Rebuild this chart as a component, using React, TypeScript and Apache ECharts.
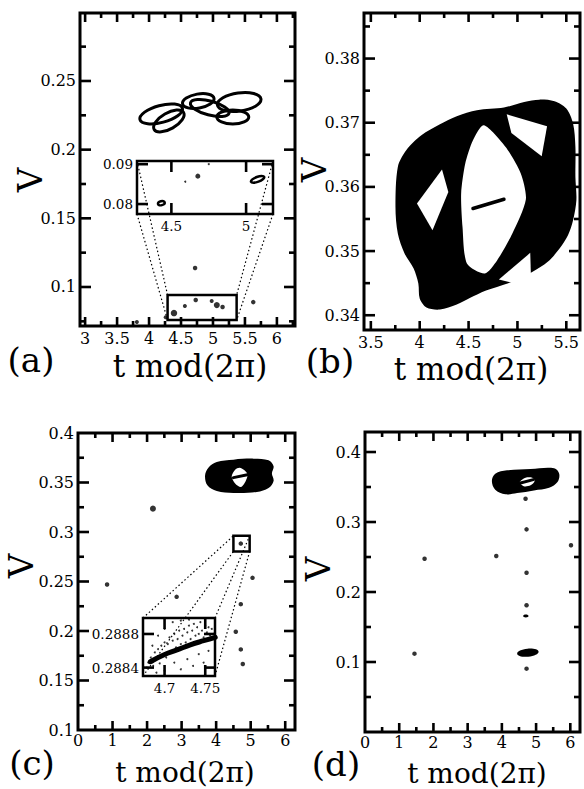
import React, { useEffect, useRef } from "react";
import * as echarts from "echarts";

const SERIF = "'DejaVu Serif', serif";

// ---------------- axes (ranges, ticks, tick labels) ----------------
const aXRange = [2.92, 6.283];
const aXMajor = [3, 3.5, 4, 4.5, 5, 5.5, 6];
const aXMinor = [3.25, 3.75, 4.25, 4.75, 5.25, 5.75, 6.25];
const aYRange = [0.0716, 0.2995];
const aYMajor = [0.1, 0.15, 0.2, 0.25];
const aYMinor = [0.075, 0.125, 0.175, 0.225, 0.275];

const bXRange = [3.43, 5.64];
const bXMajor = [3.5, 4, 4.5, 5, 5.5];
const bXMinor = [3.75, 4.25, 4.75, 5.25];
const bYRange = [0.3377, 0.3871];
const bYMajor = [0.34, 0.35, 0.36, 0.37, 0.38];
const bYMinor = [0.345, 0.355, 0.365, 0.375, 0.385];

const cXRange = [0, 6.2832];
const cXMajor = [0, 1, 2, 3, 4, 5, 6];
const cXMinor = [0.5, 1.5, 2.5, 3.5, 4.5, 5.5];
const cYRange = [0.1, 0.4];
const cYMajor = [0.1, 0.15, 0.2, 0.25, 0.3, 0.35, 0.4];
const cYMinor = [0.125, 0.175, 0.225, 0.275, 0.325, 0.375];

const dXRange = [0, 6.2832];
const dXMajor = [0, 1, 2, 3, 4, 5, 6];
const dXMinor = [0.5, 1.5, 2.5, 3.5, 4.5, 5.5];
const dYRange = [0, 0.4286];
const dYMajor = [0.1, 0.2, 0.3, 0.4];
const dYMinor = [0.05, 0.15, 0.25, 0.35];

const aiXRange = [4.27, 5.18];
const aiXMajor = [4.5, 5];
const aiYRange = [0.0775, 0.0908];
const aiYMajor = [0.08, 0.09];

const ciXRange = [4.6735, 4.762];
const ciXMajor = [4.7, 4.75];
const ciYRange = [0.2883, 0.28899];
const ciYMajor = [0.2884, 0.2888];

// ---------------- panel (a) ----------------
const aLoopT = [4.19, 4.31, 4.77, 4.95, 5.41, 5.31];
const aLoopV = [0.226, 0.2209, 0.2354, 0.2303, 0.2347, 0.2238];
const aLoopRt = [0.344, 0.266, 0.25, 0.3125, 0.344, 0.25];
const aLoopRv = [0.0062, 0.0058, 0.0051, 0.0051, 0.0066, 0.0051];
const aLoopAng = [15, 30, 10, -15, 8, 0];

const aDotT = [4.72, 3.81, 4.26, 4.39, 4.56, 4.73, 4.98, 5.06, 5.15, 5.63];
const aDotV = [0.1138, 0.0745, 0.078, 0.081, 0.0862, 0.0905, 0.0898, 0.0868, 0.0854, 0.089];
const aDotS = [4.5, 4, 4, 6.5, 4, 4.5, 4, 6, 4.5, 4.5];

const aBoxT = [4.29, 5.37];
const aBoxV = [0.0759, 0.0941];

// inset of (a)
const aiLoopT = [4.433, 5.077];
const aiLoopV = [0.0802, 0.0862];
const aiLoopRt = [0.023, 0.047];
const aiLoopRv = [0.0005, 0.00062];
const aiLoopAng = [15, 20];
const aiDotT = [4.677, 4.593, 4.75];
const aiDotV = [0.087, 0.0856, 0.09];
const aiDotS = [5, 2, 2];

// ---------------- panel (b) ----------------
const bOuterT = [3.752, 3.776, 3.862, 4.017, 4.207, 4.379, 4.586, 4.862, 5.069, 5.224, 5.379, 5.5, 5.569, 5.593, 5.593, 5.603, 5.569, 5.517, 5.431, 5.31, 5.155, 4.983, 4.828, 4.672, 4.517, 4.379, 4.207, 4.069, 4.0, 3.986, 3.938, 3.845, 3.776];
const bOuterV = [0.35688, 0.36312, 0.36571, 0.36805, 0.36976, 0.37101, 0.37194, 0.37236, 0.37324, 0.3736, 0.37334, 0.3722, 0.36987, 0.36623, 0.36156, 0.35792, 0.35481, 0.35247, 0.35039, 0.34832, 0.34676, 0.34546, 0.34458, 0.3438, 0.34271, 0.34167, 0.34089, 0.3412, 0.3426, 0.34494, 0.34728, 0.34962, 0.35273];
const bLensT = [4.655, 4.545, 4.466, 4.424, 4.438, 4.483, 4.666, 4.793, 4.948, 5.086, 5.034, 4.879];
const bLensV = [0.36961, 0.36727, 0.36363, 0.35896, 0.35377, 0.34806, 0.3465, 0.34858, 0.35273, 0.35803, 0.36208, 0.36623];
const bHoleLT = [3.972, 4.228, 4.293, 4.131];
const bHoleLV = [0.3574, 0.3627, 0.35922, 0.35325];
const bHoleURT = [4.89, 5.303, 5.248, 4.938];
const bHoleURV = [0.37132, 0.36945, 0.36478, 0.36841];
const bHoleLRT = [4.81, 5.131, 5.138, 4.948];
const bHoleLRV = [0.34557, 0.34972, 0.34609, 0.34505];
const bSegT = [4.545, 4.862];
const bSegV = [0.35663, 0.35808];

// ---------------- panel (c) ----------------
const cBlobT = [3.679, 3.775, 4.017, 4.501, 5.082, 5.518, 5.663, 5.615, 5.663, 5.518, 5.179, 4.501, 4.017, 3.746];
const cBlobV = [0.357, 0.365, 0.3707, 0.3731, 0.3741, 0.3724, 0.3664, 0.359, 0.3516, 0.3445, 0.3405, 0.3395, 0.3415, 0.3472];
const cHoleT = [4.45, 4.55, 4.68, 4.82, 4.91, 4.85, 4.72, 4.55];
const cHoleV = [0.356, 0.363, 0.365, 0.3625, 0.358, 0.351, 0.3455, 0.349];
const cSegT = [4.5, 4.94];
const cSegV = [0.3549, 0.358];
const cDotT = [2.17, 0.842, 2.856, 4.714, 5.053, 4.714, 4.569, 4.714, 4.772];
const cDotV = [0.3236, 0.247, 0.2345, 0.2883, 0.2537, 0.2271, 0.1992, 0.1814, 0.1666];
const cDotS = [6, 4.5, 4.5, 4.5, 4.5, 4.5, 4.5, 4.5, 4.5];
const cBoxT = [4.5, 4.97];
const cBoxV = [0.2803, 0.2961];

// inset of (c)
const ciCoreT = [4.6825, 4.6988, 4.7153, 4.7316, 4.748, 4.7623];
const ciCoreV = [0.28847, 0.28855, 0.28861, 0.28867, 0.28872, 0.28876];
const ciDotT = [4.678, 4.68, 4.683, 4.686, 4.688, 4.69, 4.692, 4.694, 4.696, 4.698, 4.7, 4.702, 4.704, 4.706, 4.708, 4.71, 4.712, 4.714, 4.716, 4.718, 4.72, 4.722, 4.724, 4.726, 4.728, 4.73, 4.732, 4.734, 4.736, 4.738, 4.74, 4.742, 4.744, 4.746, 4.748, 4.75, 4.752, 4.754, 4.756, 4.758, 4.76, 4.7, 4.712, 4.72, 4.728, 4.735, 4.742, 4.748, 4.754, 4.69, 4.685, 4.692, 4.7, 4.71, 4.72, 4.73];
const ciDotV = [0.2884, 0.28846, 0.28852, 0.28842, 0.28858, 0.2885, 0.28862, 0.28845, 0.28866, 0.28856, 0.2887, 0.28852, 0.28868, 0.28876, 0.28858, 0.28872, 0.2888, 0.28864, 0.28874, 0.28884, 0.28868, 0.28878, 0.28886, 0.2887, 0.28882, 0.2889, 0.28874, 0.28884, 0.28892, 0.28878, 0.28888, 0.2888, 0.28894, 0.28884, 0.28876, 0.2889, 0.28882, 0.28888, 0.28878, 0.28886, 0.2888, 0.28836, 0.28846, 0.28838, 0.2885, 0.28842, 0.28856, 0.28846, 0.2886, 0.28834, 0.28866, 0.28878, 0.28886, 0.28894, 0.28896, 0.28897];

// ---------------- panel (d) ----------------
const dBlobT = [3.708, 3.806, 4.151, 4.839, 5.528, 5.675, 5.626, 5.38, 4.938, 4.446, 4.102, 3.806];
const dBlobV = [0.3586, 0.369, 0.3738, 0.3757, 0.3767, 0.369, 0.3571, 0.349, 0.3452, 0.3414, 0.3395, 0.3462];
const dHoleT = [4.524, 4.692, 4.888, 4.957, 4.839, 4.642];
const dHoleV = [0.3571, 0.3633, 0.3633, 0.3586, 0.3524, 0.351];
const dSegT = [4.544, 4.918];
const dSegV = [0.3557, 0.3605];
const dDotT = [4.692, 4.721, 6.02, 3.836, 1.741, 4.721, 4.721, 4.721, 1.446];
const dDotV = [0.3333, 0.2895, 0.2667, 0.2514, 0.2476, 0.2276, 0.181, 0.0905, 0.1119];
const dSmearT = [4.76, 4.7];
const dSmearV = [0.1133, 0.1657];
const dSmearRt = [0.315, 0.08];
const dSmearRv = [0.0057, 0.0021];
const dSmearAng = [5, 0];

type Ax = { range: number[]; major: number[]; minor: number[]; labels: number[] };
type Style = { xLen: number[]; yLen: number[]; font: number; xm: number; ym: number; border: number };
type Panel = { g: number; xi: number; yi: number; X: Ax; Y: Ax; s: Style; rect: number[] };

const fmt = (v: number) => String(parseFloat(Number(v).toFixed(6)));

// tick marks (inward, on all four sides) as rectangular scatter symbols placed through the axes
function tickScatter(P: Panel) {
  const { X, Y, s, rect } = P;
  const xs = X.range[1] - X.range[0];
  const ys = Y.range[1] - Y.range[0];
  const W = 2.6;
  const inside = (v: number, r: number[]) =>
    v > r[0] + (r[1] - r[0]) * 0.004 && v < r[1] - (r[1] - r[0]) * 0.004;
  const data: any[] = [];
  const addX = (vals: number[], L: number) => {
    const h = ((L / 2) / rect[3]) * ys;
    vals.filter((v) => inside(v, X.range)).forEach((v) => {
      data.push({ value: [v, Y.range[0] + h], symbolSize: [W, L] });
      data.push({ value: [v, Y.range[1] - h], symbolSize: [W, L] });
    });
  };
  const addY = (vals: number[], L: number) => {
    const h = ((L / 2) / rect[2]) * xs;
    vals.filter((v) => inside(v, Y.range)).forEach((v) => {
      data.push({ value: [X.range[0] + h, v], symbolSize: [L, W] });
      data.push({ value: [X.range[1] - h, v], symbolSize: [L, W] });
    });
  };
  addX(X.major, s.xLen[0]);
  addX(X.minor, s.xLen[1]);
  addY(Y.major, s.yLen[0]);
  addY(Y.minor, s.yLen[1]);
  return {
    type: "scatter", xAxisIndex: P.xi, yAxisIndex: P.yi, z: 4, silent: true, clip: false,
    symbol: "rect",
    itemStyle: { color: "#000", opacity: 1 },
    data,
  };
}

function addPanel(o: any, rect: number[], X: Ax, Y: Ax, s: Style): Panel {
  const g = o.grid.length;
  o.grid.push({
    left: rect[0], top: rect[1], width: rect[2], height: rect[3],
    show: true, borderColor: "#000", borderWidth: s.border, backgroundColor: "transparent",
    containLabel: false, outerBoundsMode: "none",
  });
  const mk = (A: Ax, pos: string, labels: number[], margin: number) => ({
    type: "value", gridIndex: g, position: pos, min: A.range[0], max: A.range[1],
    axisLine: { show: false, onZero: false },
    splitLine: { show: false },
    splitArea: { show: false },
    axisTick: { show: false },
    axisLabel: { show: true, customValues: labels, formatter: fmt, color: "#000", fontFamily: SERIF, fontSize: s.font, margin },
    silent: true,
  });
  const xi = o.xAxis.length;
  o.xAxis.push(mk(X, "bottom", X.labels, s.xm));
  const yi = o.yAxis.length;
  o.yAxis.push(mk(Y, "left", Y.labels, s.ym));
  const P = { g, xi, yi, X, Y, s, rect };
  o.series.push(tickScatter(P));
  return P;
}

const polySeries = (P: Panel, T: number[], V: number[], fill: string, smooth = 0, z = 3) => ({
  type: "custom", xAxisIndex: P.xi, yAxisIndex: P.yi, z, silent: true,
  data: [[T[0], V[0]]],
  renderItem: (_p: any, api: any) => ({
    type: "polygon",
    shape: { points: T.map((t, i) => api.coord([t, V[i]])), smooth },
    style: { fill, stroke: "none" },
  }),
});

const ellipseSeries = (P: Panel, T: number[], V: number[], Rt: number[], Rv: number[], Ang: number[], style: any) => ({
  type: "custom", xAxisIndex: P.xi, yAxisIndex: P.yi, z: 3, silent: true,
  data: T.map((t, i) => [t, V[i], Rt[i], Rv[i], Ang[i]]),
  renderItem: (_p: any, api: any) => {
    const c = api.coord([api.value(0), api.value(1)]);
    const sz = api.size([api.value(2), api.value(3)]);
    return {
      type: "ellipse", x: c[0], y: c[1], rotation: (api.value(4) * Math.PI) / 180,
      shape: { cx: 0, cy: 0, rx: sz[0], ry: sz[1] },
      style,
    };
  },
});

const boxSeries = (P: Panel, T: number[], V: number[]) => ({
  type: "custom", xAxisIndex: P.xi, yAxisIndex: P.yi, z: 3, silent: true,
  data: [[T[0], V[0]]],
  renderItem: (_p: any, api: any) => {
    const a = api.coord([T[0], V[1]]);
    const b = api.coord([T[1], V[0]]);
    return {
      type: "rect",
      shape: { x: a[0], y: a[1], width: b[0] - a[0], height: b[1] - a[1] },
      style: { fill: "none", stroke: "#000", lineWidth: 2.5 },
    };
  },
});

const dotSeries = (P: Panel, T: number[], V: number[], S: number[] | number) => ({
  type: "scatter", xAxisIndex: P.xi, yAxisIndex: P.yi, z: 4, silent: true,
  symbol: "circle",
  itemStyle: { color: "#000" },
  data: T.map((t, i) => ({ value: [t, V[i]], symbolSize: Array.isArray(S) ? S[i] : S })),
});

const segSeries = (P: Panel, T: number[], V: number[], width: number, color = "#000", smooth = false) => ({
  type: "line", xAxisIndex: P.xi, yAxisIndex: P.yi, z: 5, silent: true,
  symbol: "none", smooth,
  lineStyle: { color, width, cap: "round" },
  data: T.map((t, i) => [t, V[i]]),
});

export default function App() {
  const ref = useRef<HTMLDivElement>(null);
  useEffect(() => {
    const chart = echarts.init(ref.current!, null, { renderer: "svg" });
    const o: any = { animation: false, tooltip: { show: false }, grid: [], xAxis: [], yAxis: [], series: [] };
    const mainP = { xLen: [9, 5], yLen: [11, 6], font: 16, xm: 4, ym: 4, border: 3 };
    const lowP = { xLen: [9, 5], yLen: [11, 6], font: 16, xm: 2, ym: 4, border: 3 };
    const insetP = { xLen: [11, 5], yLen: [11, 5], font: 13.5, xm: 5, ym: 4, border: 2.5 };

    const A = addPanel(o, [80, 13, 215, 313], { range: aXRange, major: aXMajor, minor: aXMinor, labels: aXMajor }, { range: aYRange, major: aYMajor, minor: aYMinor, labels: aYMajor }, mainP);
    const B = addPanel(o, [364, 13, 216, 317], { range: bXRange, major: bXMajor, minor: bXMinor, labels: bXMajor }, { range: bYRange, major: bYMajor, minor: bYMinor, labels: bYMajor }, mainP);
    const C = addPanel(o, [78, 433, 217, 297], { range: cXRange, major: cXMajor, minor: cXMinor, labels: cXMajor }, { range: cYRange, major: cYMajor, minor: cYMinor, labels: cYMajor }, lowP);
    const D = addPanel(o, [365, 432, 215, 300], { range: dXRange, major: dXMajor, minor: dXMinor, labels: dXMajor }, { range: dYRange, major: dYMajor, minor: dYMinor, labels: dYMajor }, lowP);
    const AI = addPanel(o, [137, 161, 136, 53], { range: aiXRange, major: aiXMajor, minor: [], labels: aiXMajor }, { range: aiYRange, major: aiYMajor, minor: [], labels: aiYMajor }, insetP);
    const CI = addPanel(o, [143, 618, 72, 58], { range: ciXRange, major: ciXMajor, minor: [], labels: ciXMajor }, { range: ciYRange, major: ciYMajor, minor: [], labels: ciYMajor }, insetP);

    o.series.push(
      // (a)
      ellipseSeries(A, aLoopT, aLoopV, aLoopRt, aLoopRv, aLoopAng, { fill: "none", stroke: "#000", lineWidth: 3 }),
      dotSeries(A, aDotT, aDotV, aDotS),
      boxSeries(A, aBoxT, aBoxV),
      ellipseSeries(AI, aiLoopT, aiLoopV, aiLoopRt, aiLoopRv, aiLoopAng, { fill: "none", stroke: "#000", lineWidth: 2.5 }),
      dotSeries(AI, aiDotT, aiDotV, aiDotS),
      // (b)
      polySeries(B, bOuterT, bOuterV, "#000", 0.3, 3),
      polySeries(B, bLensT, bLensV, "#fff", 0.25, 4),
      polySeries(B, bHoleLT, bHoleLV, "#fff", 0, 4),
      polySeries(B, bHoleURT, bHoleURV, "#fff", 0, 4),
      polySeries(B, bHoleLRT, bHoleLRV, "#fff", 0, 4),
      segSeries(B, bSegT, bSegV, 3.5),
      // (c)
      polySeries(C, cBlobT, cBlobV, "#000", 0.35, 3),
      polySeries(C, cHoleT, cHoleV, "#fff", 0.3, 4),
      segSeries(C, cSegT, cSegV, 3),
      dotSeries(C, cDotT, cDotV, cDotS),
      boxSeries(C, cBoxT, cBoxV),
      segSeries(CI, ciCoreT, ciCoreV, 5, "#000", true),
      dotSeries(CI, ciDotT, ciDotV, 2),
      // (d)
      polySeries(D, dBlobT, dBlobV, "#000", 0.35, 3),
      polySeries(D, dHoleT, dHoleV, "#fff", 0.3, 4),
      segSeries(D, dSegT, dSegV, 3),
      dotSeries(D, dDotT, dDotV, 4.5),
      ellipseSeries(D, dSmearT, dSmearV, dSmearRt, dSmearRv, dSmearAng, { fill: "#000", stroke: "none" })
    );

    chart.setOption(o);

    const px = (P: Panel, p: number[]) =>
      chart.convertToPixel({ xAxisIndex: P.xi, yAxisIndex: P.yi } as any, p) as number[];

    const connectors: any[] = [];
    const connect = (IN: Panel, M: Panel, bx: number[], by: number[]) => {
      const inX = IN.X.range, inY = IN.Y.range;
      const pairs = [
        [[inX[0], inY[1]], [bx[0], by[1]]],
        [[inX[1], inY[1]], [bx[1], by[1]]],
        [[inX[0], inY[0]], [bx[0], by[0]]],
        [[inX[1], inY[0]], [bx[1], by[0]]],
      ];
      pairs.forEach(([a, b]) => {
        const p1 = px(IN, a);
        const p2 = px(M, b);
        connectors.push({
          type: "line", z: 50, silent: true,
          shape: { x1: p1[0], y1: p1[1], x2: p2[0], y2: p2[1] },
          style: { stroke: "#000", lineWidth: 1.2, lineDash: [1.5, 2.5] },
        });
      });
    };
    connect(AI, A, aBoxT, aBoxV);
    connect(CI, C, cBoxT, cBoxV);

    const txt = (x: number, y: number, text: string, size: number, rot = 0) => ({
      type: "text", x, y, rotation: rot, z: 60, silent: true,
      style: { text, fill: "#000", font: `${size}px ${SERIF}`, align: "center", verticalAlign: "middle" },
    });
    const texts = [
      txt(30, 180, "V", 34, Math.PI / 2),
      txt(314, 170, "V", 34, Math.PI / 2),
      txt(21, 566, "V", 34, Math.PI / 2),
      txt(318, 569, "V", 34, Math.PI / 2),
      txt(190, 366, "t mod(2π)", 31),
      txt(471, 369, "t mod(2π)", 31),
      txt(185, 772, "t mod(2π)", 28),
      txt(477, 773, "t mod(2π)", 28),
      txt(31, 360, "(a)", 34),
      txt(330, 361, "(b)", 34),
      txt(32, 763, "(c)", 34),
      txt(336, 764, "(d)", 34),
    ];
    chart.setOption({ graphic: [...texts, ...connectors] });

    return () => chart.dispose();
  }, []);
  return (
    <div
      ref={ref}
      style={{ position: "absolute", left: 0, top: 0, width: 584, height: 789, background: "#fff" }}
    />
  );
}
